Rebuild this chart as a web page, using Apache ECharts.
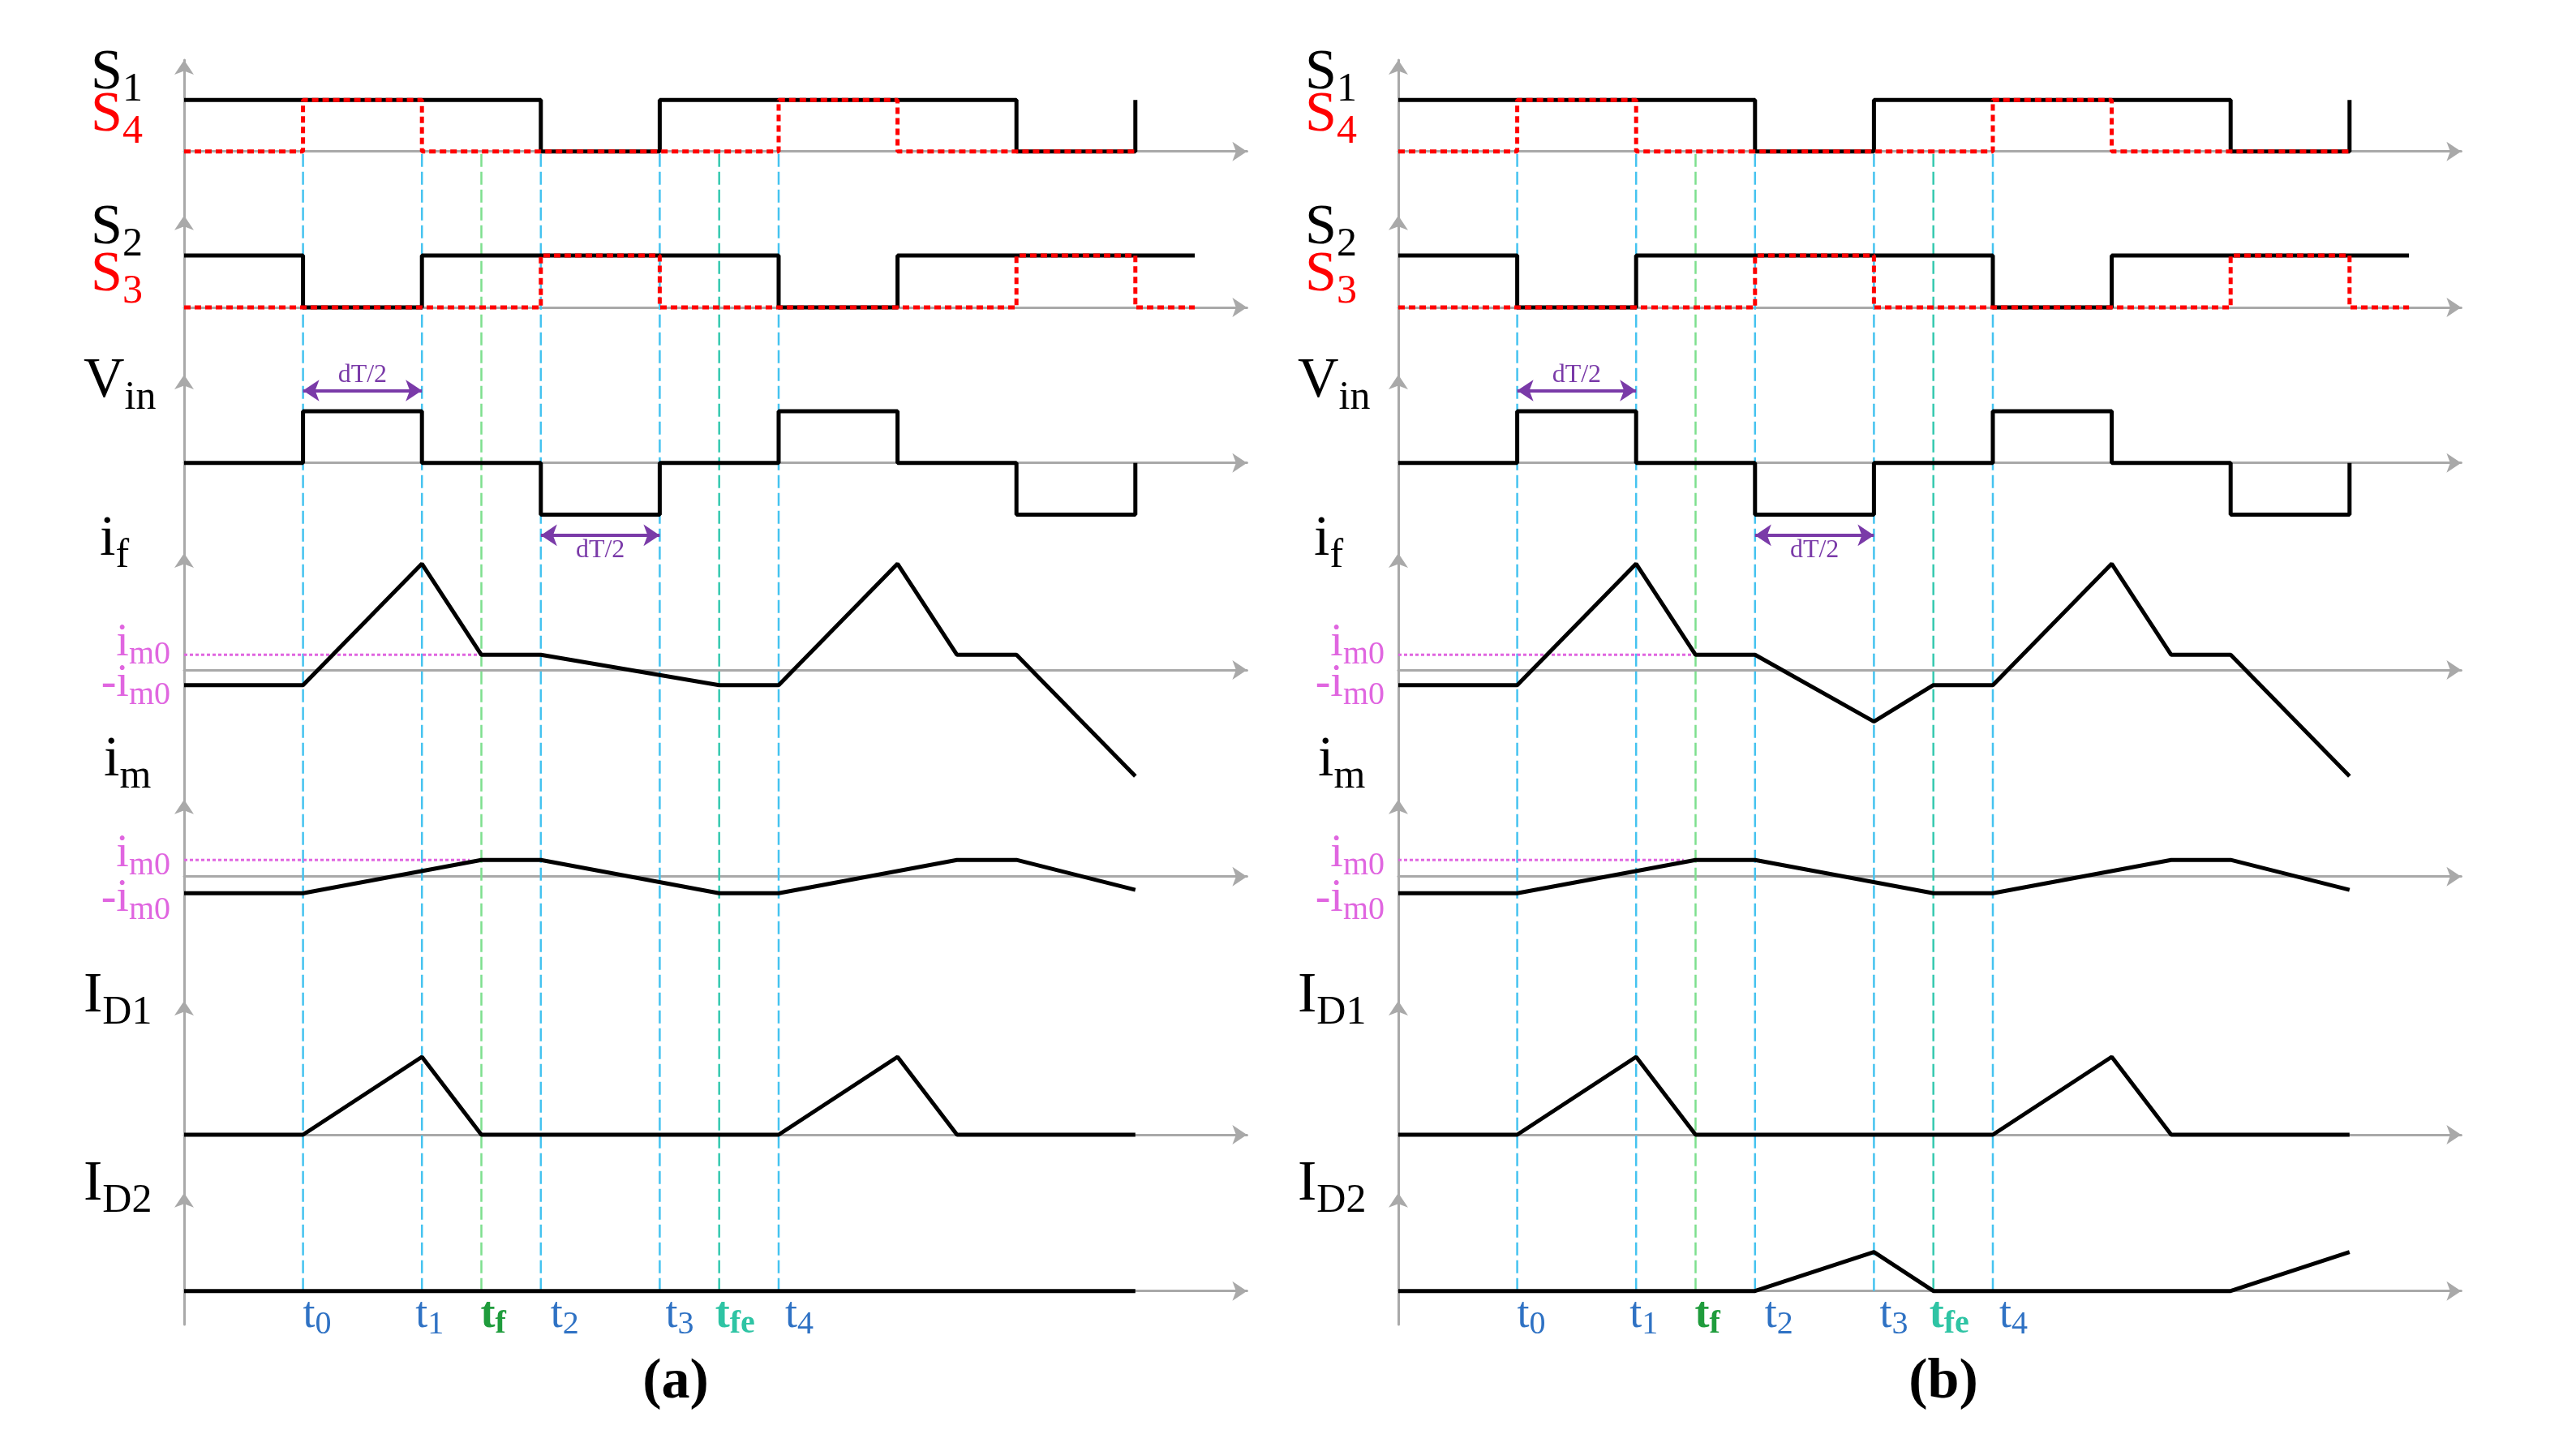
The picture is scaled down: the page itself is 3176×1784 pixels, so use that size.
<!DOCTYPE html>
<html><head><meta charset="utf-8">
<script src="https://cdn.jsdelivr.net/npm/echarts/dist/echarts.min.js"></script>
<style>html,body{margin:0;padding:0;background:#fff}#c{width:3176px;height:1784px}</style>
</head><body><div id="c"></div>
<script>
// ---------------- DATA (time axis in units; 2 units = dT/2) ----------------
const S1   = [[0,1],[6,1],[6,0],[8,0],[8,1],[14,1],[14,0],[16,0],[16,1]];
const S4   = [[0,0],[2,0],[2,1],[4,1],[4,0],[10,0],[10,1],[12,1],[12,0],[16,0]];
const S2   = [[0,1],[2,1],[2,0],[4,0],[4,1],[10,1],[10,0],[12,0],[12,1],[17,1]];
const S3   = [[0,0],[6,0],[6,1],[8,1],[8,0],[14,0],[14,1],[16,1],[16,0],[17,0]];
const VIN  = [[0,0],[2,0],[2,1],[4,1],[4,0],[6,0],[6,-1],[8,-1],[8,0],[10,0],[10,1],[12,1],[12,0],[14,0],[14,-1],[16,-1],[16,0]];
const IF_A = [[0,-1],[2,-1],[4,7],[5,1],[6,1],[9,-1],[10,-1],[12,7],[13,1],[14,1],[16,-7]];
const IF_B = [[0,-1],[2,-1],[4,7],[5,1],[6,1],[8,-3.4],[9,-1],[10,-1],[12,7],[13,1],[14,1],[16,-7]];
const IM_A = [[0,-1],[2,-1],[5,1],[6,1],[9,-1],[10,-1],[13,1],[14,1],[16,-0.8]];
const IM_B = [[0,-1],[2,-1],[5,1],[6,1],[9,-1],[10,-1],[13,1],[14,1],[16,-0.8]];
const ID1  = [[0,0],[2,0],[4,1],[5,0],[10,0],[12,1],[13,0],[16,0]];
const ID2_A = [[0,0],[16,0]];
const ID2_B = [[0,0],[6,0],[8,0.5],[9,0],[14,0],[16,0.5]];
const IM0_IF = [[0,1],[5,1]];
const IM0_IM = [[0,1],[4.8,1]];
const DT_ARROWS = [[2,4,1.4],[6,8,-1.4]];
const MARK_T = [2,4,5,6,8,9,10];
const MARK_LABELS = [['t','0'],['t','1'],['t','f'],['t','2'],['t','3'],['t','fe'],['t','4']];
const ROW_LABELS = [[['S','1'],['S','4']],[['S','2'],['S','3']],[['V','in']],[['i','f']],[['i','m']],[['I','D1']],[['I','D2']]];
const IM0_LABELS = [['i','m0'],['-i','m0'],['i','m0'],['-i','m0']];
const PANEL_TITLES = ['(a)','(b)'];

// ---------------- LAYOUT / STYLE ----------------
const FONT = '"Liberation Serif","Times New Roman",serif';
const U = 73.3, ARROW = 18, XMAX = 18 - (ARROW/2)/U;
const ROWS = [
  {tip:65,    zero:186.7,  unit:63.4},
  {tip:256.7, zero:379,    unit:64},
  {tip:453,   zero:570.7,  unit:63.7},
  {tip:673,   zero:826,    unit:18.7},
  {tip:976.7, zero:1080.7, unit:20.5},
  {tip:1225,  zero:1399,   unit:96},
  {tip:1461.7,zero:1591.7, unit:96}
];
const AXIS_BOTTOM = 1633;
const GRAY = '#a9a9a9';
const MARK_COLORS = ['#45c3f0','#45c3f0','#7ee08e','#45c3f0','#45c3f0','#36c9b0','#45c3f0'];
const MARK_TXT_COLORS = ['#2f72c4','#2f72c4','#1f9c3c','#2f72c4','#2f72c4','#2ec4a4','#2f72c4'];
const MARK_BOLD = [false,false,true,false,false,true,false];
const MARK_SHIFT = [0,-8,-1,12,7,-5,8];
const LABEL_POS = [[[-115,91],[-115,143]],[[-115,282],[-115,340]],[[-124,471]],[[-104,666]],[[-99,938]],[[-124,1229]],[[-124,1461]]];
const LABEL_COL = [['#000','#ff0000'],['#000','#ff0000'],['#000'],['#000'],['#000'],['#000'],['#000']];
const IM0_Y = [793, 843, 1053, 1108];
const PANELS = [
  {x0:227,  ifw:IF_A, im:IM_A, id2:ID2_A, titleX:833},
  {x0:1724, ifw:IF_B, im:IM_B, id2:ID2_B, titleX:2396}
];

const grids=[], xAxes=[], yAxes=[], series=[], graphics=[];
function fnt(size, bold){ return (bold?'bold ':'normal ')+size+'px '+FONT; }
function addGrid(x0, top, bot, ymin, ymax, show){
  const i = grids.length;
  grids.push({left:x0, top:top, width:XMAX*U, height:bot-top, containLabel:false, outerBoundsMode:'none'});
  const al = {show:show, onZero:true, symbol:['none','arrow'], symbolSize:[18,ARROW], lineStyle:{color:GRAY,width:3}};
  xAxes.push({type:'value', gridIndex:i, min:0, max:XMAX, axisLine:al, axisTick:{show:false}, axisLabel:{show:false}, splitLine:{show:false}});
  yAxes.push({type:'value', gridIndex:i, min:ymin, max:ymax, axisLine:al, axisTick:{show:false}, axisLabel:{show:false}, splitLine:{show:false}});
  return i;
}
function addLine(gi, data, style, z, extra){
  series.push(Object.assign({type:'line', xAxisIndex:gi, yAxisIndex:gi, data:data, showSymbol:false, symbol:'none',
    silent:true, clip:false, z:z, lineStyle:style}, extra||{}));
}
function addLabel(x, y, main, sub, o){
  graphics.push({type:'text', x:x, y:y, silent:true, z:50, style:{
    text:'{m|'+main+'}{s|'+sub+'}', font:fnt(o.fs,o.bold), fill:o.color,
    textAlign:o.align||'left', textVerticalAlign:'middle',
    rich:{ m:{font:fnt(o.fs,o.bold), fill:o.color, lineHeight:o.fs},
           s:{font:fnt(o.ss,o.bold), fill:o.color, lineHeight:o.ss, padding:[o.pad,0,0,0]} }
  }});
}
const BLACK = {color:'#000', width:5};
const RED = {color:'#ff0000', width:5, type:[8,5]};
const MAG = {color:'#e066e0', width:3, type:[4,3]};

PANELS.forEach((P, pi) => {
  const gIdx = ROWS.map((r, k) => {
    const top = r.tip + ARROW/2;
    const bot = k < ROWS.length-1 ? ROWS[k+1].tip + ARROW/2 : AXIS_BOTTOM;
    return addGrid(P.x0, top, bot, -(bot - r.zero)/r.unit, (r.zero - top)/r.unit, true);
  });
  // overlay grid for the time markers
  const og = addGrid(P.x0, ROWS[0].zero, ROWS[6].zero, 0, 1, false);
  MARK_T.forEach((t, i) => addLine(og, [[t,0],[t,1]], {color:MARK_COLORS[i], width:2.5, type:[16,6]}, 1));

  addLine(gIdx[0], S1, BLACK, 3);
  addLine(gIdx[0], S4, RED, 4);
  addLine(gIdx[1], S2, BLACK, 3);
  addLine(gIdx[1], S3, RED, 4);
  addLine(gIdx[2], VIN, BLACK, 3, {markLine:{silent:true, symbol:['arrow','arrow'], symbolSize:20, animation:false,
    lineStyle:{color:'#7a3aa8', width:4, type:'solid'},
    label:{show:true, formatter:'dT/2', color:'#7a3aa8', fontFamily:FONT, fontSize:32, distance:3},
    data: DT_ARROWS.map(a => [{coord:[a[0],a[2]], label:{position: a[2] > 0 ? 'insideMiddleTop' : 'insideMiddleBottom'}}, {coord:[a[1],a[2]]}])}});
  addLine(gIdx[3], IM0_IF, MAG, 2);
  addLine(gIdx[3], P.ifw, BLACK, 3);
  addLine(gIdx[4], IM0_IM, MAG, 2);
  addLine(gIdx[4], P.im, BLACK, 3);
  addLine(gIdx[5], ID1, BLACK, 3);
  addLine(gIdx[6], P.id2, BLACK, 3);

  // row labels
  ROW_LABELS.forEach((labs, k) => labs.forEach((lab, j) => {
    const pos = LABEL_POS[k][j];
    addLabel(P.x0 + pos[0], pos[1], lab[0], lab[1], {fs:70, ss:50, pad:40, color:LABEL_COL[k][j]});
  }));
  // i_m0 / -i_m0 labels
  IM0_LABELS.forEach((lab, k) =>
    addLabel(P.x0 - 17, IM0_Y[k], lab[0], lab[1], {fs:56, ss:40, pad:28, color:'#e066e0', align:'right'}));
  // time labels
  MARK_T.forEach((t, i) => addLabel(P.x0 + t*U + MARK_SHIFT[i], 1622, MARK_LABELS[i][0], MARK_LABELS[i][1],
    {fs:54, ss:40, pad:22, color:MARK_TXT_COLORS[i], bold:MARK_BOLD[i]}));
  // panel title
  graphics.push({type:'text', x:P.titleX, y:1705, silent:true, style:{text:PANEL_TITLES[pi], font:fnt(70,true), fill:'#000', textAlign:'center', textVerticalAlign:'middle'}});
});

const chart = echarts.init(document.getElementById('c'), null, {renderer:'canvas'});
chart.setOption({animation:false, backgroundColor:'#fff', grid:grids, xAxis:xAxes, yAxis:yAxes, series:series, graphic:{elements:graphics}});
</script>
</body></html>
